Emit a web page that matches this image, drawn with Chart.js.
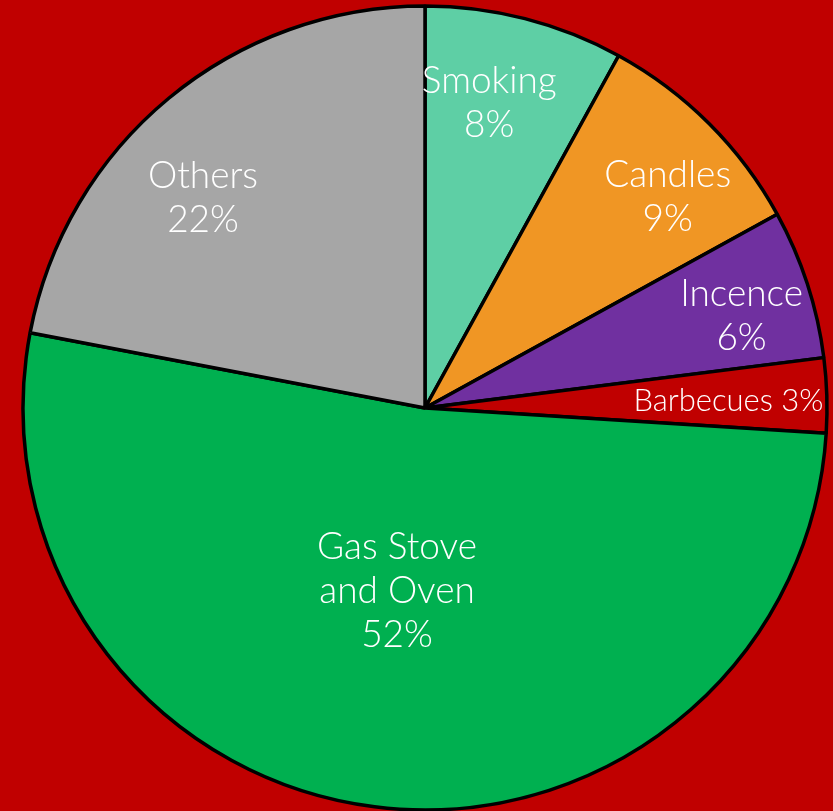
<!DOCTYPE html>
<html>
<head>
<meta charset="utf-8">
<script src="https://cdn.jsdelivr.net/npm/chart.js@4"></script>
<style>
  html, body { margin: 0; padding: 0; background: #C00000; }
  #wrap { width: 833px; height: 811px; }
</style>
</head>
<body>
<div id="wrap"><canvas id="c" width="833" height="811"></canvas></div>
<script>
// Sources of indoor air pollution, share in percent
const categories = ['Smoking', 'Candles', 'Incence', 'Barbecues', 'Gas Stove and Oven', 'Others'];
const shares = [8, 9, 6, 3, 52, 22];

// Slice fills
const sliceColors = ['#5ECFA5', '#F09624', '#7030A0', '#C00000', '#00B050', '#A6A6A6'];

// Label text lines (percent appended on its own line or inline)
const labelLines = [
  ['Smoking'], ['Candles'], ['Incence'], ['Barbecues'], ['Gas Stove', 'and Oven'], ['Others']
];
const percentInline = [false, false, false, true, false, false];
// Placement of each label: fraction of radius, angle nudge in degrees, font size
const labelRadius = [0.775, 0.80, 0.82, 0.755, 0.46, 0.76];
const labelNudge = [-2.5, 4, 1.8, 0.5, 1.5, -7];
const labelSize = [37, 37, 37, 31, 37, 37];

const sliceLabels = {
  id: 'sliceLabels',
  afterDatasetsDraw(chart) {
    const ctx = chart.ctx;
    const meta = chart.getDatasetMeta(0);
    meta.data.forEach((arc, i) => {
      const p = arc.getProps(['x', 'y', 'startAngle', 'endAngle', 'outerRadius'], true);
      const mid = (p.startAngle + p.endAngle) / 2 + labelNudge[i] * Math.PI / 180;
      const r = p.outerRadius * labelRadius[i];
      const cx = p.x + Math.cos(mid) * r;
      const cy = p.y + Math.sin(mid) * r;
      const pct = shares[i] + '%';
      let lines = labelLines[i].slice();
      if (percentInline[i]) lines[lines.length - 1] += ' ' + pct; else lines.push(pct);
      const size = labelSize[i];
      const lh = 44;
      ctx.save();
      ctx.fillStyle = '#FFFFFF';
      ctx.font = '300 ' + size + 'px Lato';
      ctx.textAlign = 'center';
      ctx.textBaseline = 'middle';
      const top = cy - (lines.length - 1) * lh / 2;
      lines.forEach((t, k) => ctx.fillText(t, cx, top + k * lh));
      ctx.restore();
    });
  }
};

new Chart(document.getElementById('c'), {
  type: 'pie',
  data: {
    labels: categories,
    datasets: [{
      data: shares,
      backgroundColor: sliceColors,
      borderColor: '#000000',
      borderWidth: 3.5
    }]
  },
  options: {
    responsive: false,
    animation: false,
    radius: 402,
    layout: { padding: { left: 17, top: 5, right: 0, bottom: 0 } },
    plugins: {
      legend: { display: false },
      tooltip: { enabled: false }
    }
  },
  plugins: [sliceLabels]
});
</script>
</body>
</html>
